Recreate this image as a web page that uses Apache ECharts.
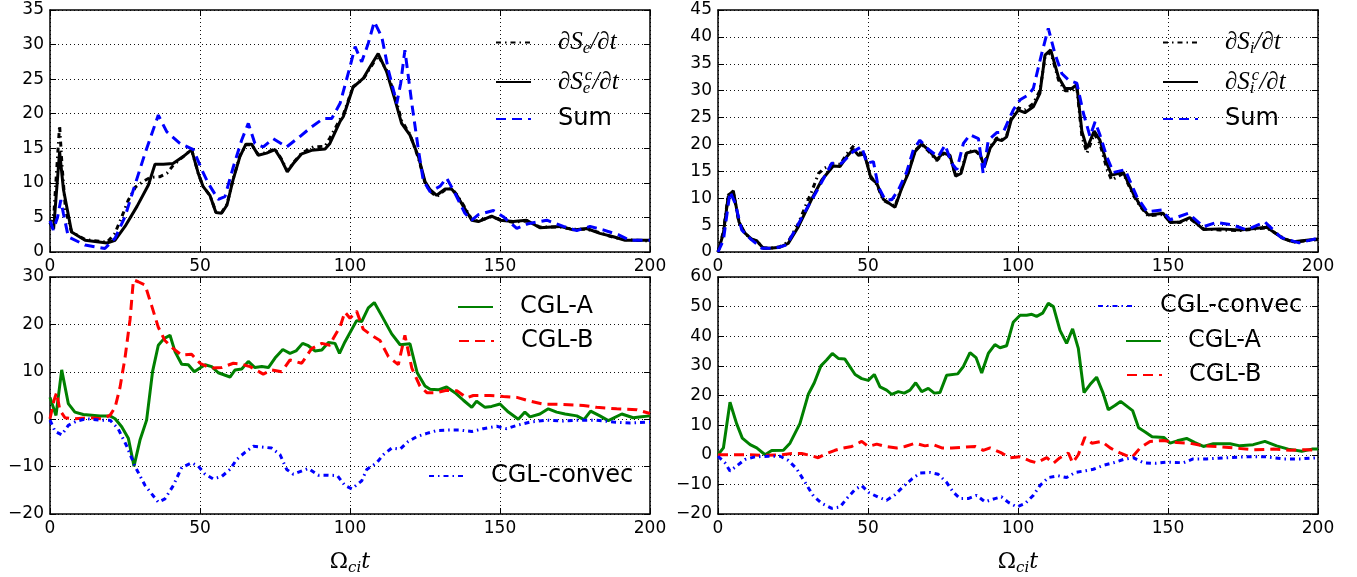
<!DOCTYPE html>
<html>
<head>
<meta charset="utf-8">
<script src="https://cdn.jsdelivr.net/npm/echarts@6.0.0/dist/echarts.min.js"></script>
<style>
html, body { margin: 0; padding: 0; background: #fff; }
#main { width: 1357px; height: 577px; }
</style>
</head>
<body>
<div id="main"></div>
<script>
// x range shared by all panels
var xMin = 0, xMax = 200, xStep = 50;

// y ranges per panel: [min, max, step]
var yTopE = [0, 35, 5];
var yTopI = [0, 45, 5];
var yBotE = [-20, 30, 10];
var yBotI = [-20, 60, 10];

// top left: electron entropy rate
var eDsDt = [[0,4.0],[1.3,5.5],[2.4,13],[3.2,18.3],[4.0,12.5],[5.2,6],[7.2,2.9],[11.7,1.8],[19,1.4],[21.5,2.6],[23.5,4.6],[26,7.4],[28.5,9.4],[31,10.2],[33.5,10.8],[36.7,10.9],[39,11.4],[41,12.5],[44.4,13.8],[47.2,14.8],[49.4,11.4],[51,9.5],[53.3,8.2],[55.3,5.8],[57.2,5.7],[59,6.9],[61,10.5],[63.3,13.9],[65.3,15.5],[67.2,15.5],[69.4,14.1],[72.2,14.4],[75,14.9],[77.2,13.4],[79.1,11.7],[81.1,12.9],[83.9,14.3],[87.8,15.2],[91.7,15.3],[93.3,16.5],[96.7,19.2],[97.8,19.9],[101,23.9],[104.4,25.0],[106.7,26.6],[109.4,28.4],[112.2,26.3],[115,22.5],[117.2,19.0],[120,17.0],[122.8,13.6],[125,10.0],[126.7,8.8],[128.9,8.0],[131.7,9.0],[133.9,9.2],[135.6,8.3],[137.8,6.8],[140.6,4.7],[142.8,4.5],[147.2,5.1],[150,4.7],[154.4,4.3],[158.9,4.5],[163.3,3.6],[170,3.6],[174.4,3.3],[178.9,3.3],[183.3,2.8],[187.8,2.1],[191.7,1.8],[200,1.6]];
var eDscDt = [[0,4.2],[1.2,3.3],[3.2,14.5],[4.5,9],[7.2,2.9],[11.7,1.7],[19,1.3],[21.7,1.7],[25,3.7],[29,6.6],[32.8,9.7],[35,12.7],[37.8,12.7],[41,12.8],[44.4,13.8],[47.2,14.8],[49.4,11.4],[51,9.5],[53.3,8.2],[55.3,5.7],[57.2,5.6],[59,6.8],[61,10.4],[63.3,13.8],[65.3,15.6],[67.2,15.6],[69.4,14.0],[72.2,14.3],[75,14.8],[77.2,13.3],[79.1,11.6],[81.1,12.8],[83.9,14.2],[87.2,14.7],[91.7,14.9],[93.3,15.7],[96.7,18.9],[97.8,19.6],[101,23.8],[104.4,25.1],[106.7,26.8],[109.4,28.7],[112.2,26.1],[115,22.0],[117.2,18.6],[120,16.9],[122.8,13.8],[125,10.2],[126.7,9.0],[128.9,8.2],[131.7,9.1],[133.9,9.1],[135.6,8.2],[137.8,6.6],[140.6,4.6],[142.8,4.4],[147.2,5.2],[150,4.6],[154.4,4.4],[158.9,4.6],[163.3,3.5],[170,3.7],[174.4,3.2],[178.9,3.4],[183.3,2.7],[187.8,2.2],[191.7,1.7],[200,1.7]];
var eSum = [[0,4.5],[1.1,3.2],[2.5,5],[3.6,7.5],[4.5,5.5],[6.1,2.2],[11.7,1.0],[18.3,0.5],[21.7,2.0],[25,5.1],[27.8,9.0],[31.7,14.3],[36.1,19.8],[38.9,17.4],[43.3,15.7],[47.8,14.8],[50.6,11.9],[52.8,9.9],[56.1,7.6],[58.3,8.0],[61.1,12.3],[63.9,16.2],[66.1,18.6],[68.3,15.7],[71.1,15.2],[74.4,16.4],[78.9,15.2],[83.3,16.7],[87.2,18.1],[91.1,19.3],[93.9,19.3],[96.7,21.5],[100,26.8],[101.7,29.7],[103.9,27.5],[106.1,30.2],[108.1,33.3],[110.6,31.1],[112.8,26.3],[115.6,21.5],[116.9,24.4],[118.3,29.2],[120.6,21.5],[122.8,14.8],[124.4,10.4],[126.7,8.7],[130,9.5],[132.2,10.7],[135,8.5],[138.3,5.6],[140.6,4.6],[142.8,5.4],[147.8,6.0],[151.1,5.1],[155.6,3.4],[159.4,4.1],[165.6,4.6],[171.1,3.7],[175.6,3.1],[180,3.7],[184.4,3.2],[189.4,2.5],[193.3,1.7],[200,1.7]];

// top right: ion entropy rate
var iDsDt = [[0,0],[1.8,3.8],[3.4,10.6],[5.1,11.2],[7,5.4],[9,3.4],[11.2,2.4],[12.9,2.0],[15.1,0.8],[17.3,0.7],[20.7,1.0],[23.4,1.9],[26.8,5.3],[29.2,8.6],[31.2,11.2],[33.5,14.6],[35.5,15.6],[38.4,16.4],[40.7,16.3],[42.9,18.2],[45.3,19.8],[46.8,18.4],[48.8,18.4],[51,14.0],[52.9,12.6],[55.1,9.6],[59,8.5],[61.2,12.0],[63.4,14.8],[65.7,18.9],[67.9,20.0],[70.1,18.8],[72.9,17.0],[75.1,18.2],[77.3,17.8],[79.2,14.3],[81,14.9],[82.9,18.6],[85.7,18.9],[87.3,18.0],[88.8,16.2],[90.7,19.5],[92.9,21.2],[94.6,20.9],[96.2,21.6],[97.7,24.8],[100.1,26.8],[102.3,26.4],[105.1,27.6],[107.3,30.0],[109,36.2],[110.9,37.2],[113.5,32.0],[115.7,30.0],[117.9,30.0],[119.6,30.6],[121.3,21.5],[123,18.4],[125.4,22.0],[127.3,20.2],[129.6,15.5],[131.2,13.4],[135.1,14.6],[138.4,10.6],[140.7,8.5],[143.4,6.7],[148.4,7.0],[150.7,5.6],[154,5.5],[157.3,6.2],[161.8,4.3],[167.3,4.1],[174,4.0],[182.9,4.5],[188.4,2.6],[191.8,1.8],[196.2,2.1],[200,2.3]];
var iDscDt = [[0,0],[1.8,3.5],[3.4,10.3],[5.1,11.4],[7,5.6],[9,3.5],[11.2,2.4],[12.9,2.1],[15.1,0.7],[17.3,0.7],[20.7,0.9],[23.4,1.6],[26.8,4.7],[31.2,9.8],[34.6,13.4],[38.4,16.0],[40.7,15.9],[42.9,17.7],[45.1,19.1],[46.8,18.0],[48.8,18.2],[51,13.7],[52.9,12.8],[55.1,9.8],[59,8.3],[61.2,11.8],[63.4,14.6],[65.7,18.7],[67.9,20.1],[70.1,19.0],[72.9,17.2],[75.1,18.4],[77.3,18.0],[79.2,14.1],[81,14.6],[82.9,18.4],[85.7,18.8],[87.3,18.2],[88.8,15.9],[90.7,19.3],[92.9,21.0],[94.6,20.7],[96.2,21.4],[97.7,24.5],[100.1,26.4],[102.3,25.9],[105.1,27.0],[107.3,29.5],[109,36.6],[110.9,37.6],[113.5,32.5],[115.7,30.4],[117.9,30.4],[119.6,31.1],[121.3,22.4],[123,19.3],[125.4,22.5],[127.3,20.8],[129.6,16.5],[131.2,14.3],[135.1,14.8],[138.4,10.9],[140.7,8.7],[143.4,6.9],[148.4,7.2],[150.7,5.5],[154,5.6],[157.3,6.4],[161.8,4.2],[167.3,4.3],[174,4.1],[182.9,4.6],[188.4,2.5],[191.8,1.9],[196.2,2.2],[200,2.4]];
var iSum = [[0,0],[1.8,2.2],[4,11.2],[5.7,9.1],[7.9,4.1],[10.7,2.5],[14.6,0.7],[19,0.7],[22.9,1.3],[25.7,4.1],[29.6,8.1],[33.4,11.8],[37.9,16.5],[41.2,16.5],[45.1,18.7],[47.9,19.6],[49.6,16.5],[51.8,16.8],[53.4,12.2],[55.7,9.7],[57.9,9.7],[60.1,11.5],[62.9,14.9],[65.1,19.0],[67.3,20.8],[70.1,19.1],[73.4,17.7],[75.7,19.9],[77.9,16.5],[79.6,15.3],[81.8,20.2],[84,21.8],[86.8,21.1],[88.4,14.6],[90.1,20.8],[92.9,22.2],[95.1,22.3],[98.4,26.4],[100.7,28.3],[103.4,29.2],[105.1,30.4],[107.9,36.9],[110.1,41.6],[112.3,36.9],[114.6,33.2],[116.8,32.0],[119.6,31.4],[121.8,25.8],[124,21.5],[125.7,24.2],[127.3,21.8],[129.6,17.7],[131.8,14.8],[135.7,15.3],[139.6,10.3],[143,7.5],[148,7.8],[150.7,6.0],[156.8,7.2],[161.8,4.7],[166.2,5.5],[171.8,5.0],[176.2,4.1],[182.3,5.6],[187.7,2.7],[193.7,1.7],[199.6,2.5]];

// bottom left: electron CGL terms
var eCglA = [[0,4.6],[2,0.8],[3.9,10.4],[6.1,3.3],[8.3,1.5],[11.1,1.0],[16.7,0.7],[20,0.7],[21.7,0.1],[23.9,-1.6],[26.1,-4.0],[28,-9.9],[30,-4.4],[32.2,-0.2],[34.2,10.1],[36.1,15.6],[38,17.0],[40,17.7],[41.7,14.2],[43.9,11.6],[46.1,11.5],[48.1,10.0],[50,10.8],[51.7,11.5],[53.9,11.1],[56.1,9.8],[60,8.9],[61.7,10.4],[63.9,10.6],[66.1,12.2],[68.3,10.9],[70.6,11.1],[72.8,10.9],[75,12.9],[77.6,14.7],[80,13.9],[82,14.4],[84.2,16.0],[86.1,15.5],[88.3,14.4],[90.6,14.6],[92.8,16.2],[95,16.0],[96.5,13.9],[98.3,16.3],[102.2,20.8],[103.9,20.6],[106.1,23.5],[108.1,24.6],[110.6,21.8],[113.9,18.0],[116.7,15.7],[120,15.9],[122.4,9.8],[125,7.0],[126.7,6.3],[129.4,6.2],[132.2,6.8],[135,5.6],[137.8,4.0],[140.6,2.5],[142.2,3.8],[145,2.5],[147.2,2.7],[150,3.2],[152.8,1.5],[156.1,0],[158.3,1.5],[160,0.5],[163.3,1.1],[166.1,2.2],[168.9,1.5],[171.7,1.1],[175.6,0.7],[178,-0.1],[180.2,1.7],[183.3,0.7],[186.1,-0.3],[190.6,1.1],[194.4,0.3],[197.2,0.5],[200,0.7]];
var eCglB = [[0,0.1],[1.3,3.9],[2.2,5.6],[3.3,1.9],[5,0.3],[7.8,0.1],[13.3,0.3],[17.2,0.1],[20,0.8],[21.7,2.5],[23.3,6.6],[25,12.9],[26.7,21.1],[27.8,29.4],[29.4,29.0],[31.7,28.3],[33.9,23.9],[36.1,19.4],[38.3,16.6],[41.1,14.9],[43.9,13.5],[47.2,13.7],[50,11.8],[53.3,10.8],[57.2,10.9],[61.1,11.8],[63.9,11.6],[66.7,11.1],[71.1,9.5],[73.9,10.4],[77.2,10.0],[80,12.5],[83.9,11.8],[87.2,14.9],[90.6,16.0],[93.3,15.6],[94.4,17.0],[96.7,19.5],[98.3,22.6],[100,21.3],[102.2,22.8],[104.4,19.0],[107.2,17.7],[110,16.6],[112.8,13.2],[116.1,11.5],[118.3,17.7],[120.6,10.8],[123.3,7.0],[125.6,5.6],[128.9,5.6],[132.2,6.1],[135.6,6.0],[138.9,4.5],[141.1,5.0],[146.7,5.0],[151.1,4.8],[155.6,4.6],[160,3.8],[164.4,3.2],[171.1,3.1],[177.8,2.9],[182.2,2.5],[188.9,2.2],[195.6,2.0],[200,1.2]];
var eConvec = [[0,-0.2],[1.7,-2.6],[3.9,-3.3],[6.1,-1.3],[8.9,-0.4],[12.2,0.1],[16.7,-0.2],[20,-0.2],[22.7,-2.0],[25.6,-5.7],[28.3,-9.9],[31.7,-14.0],[36.1,-17.5],[38.3,-16.8],[41.1,-14.0],[43.9,-10.2],[47.2,-9.2],[49.4,-9.9],[51.7,-11.6],[54.4,-12.6],[57.2,-12.1],[60,-10.6],[62.2,-8.5],[65,-7.0],[67.8,-5.7],[71.1,-5.9],[73.9,-6.1],[76.7,-7.5],[78.9,-10.6],[81.1,-11.6],[86.1,-10.4],[89.4,-11.8],[92.8,-11.8],[95.8,-11.9],[98.3,-14.0],[100.6,-14.7],[103.9,-13.0],[105.6,-10.6],[108.9,-9.2],[111.1,-7.5],[113.9,-6.1],[116.7,-6.3],[119.4,-4.7],[122.2,-3.7],[125.6,-3.0],[128.9,-2.4],[132.8,-2.3],[136.7,-2.3],[140.6,-2.6],[144.4,-2.0],[148.9,-1.5],[152.2,-2.0],[155.6,-1.3],[160,-0.6],[165.6,-0.2],[171.1,-0.4],[176.7,-0.2],[182.2,-0.2],[187.8,-0.6],[193.3,-0.8],[200,-0.6]];

// bottom right: ion CGL terms
var iCglA = [[0,0],[1.8,2.3],[4,17.7],[6.2,10.5],[8.1,5.6],[10.7,3.4],[12.9,2.3],[15.7,0],[17.9,1.4],[21.8,1.5],[24,3.9],[27.3,10.5],[30.1,20.4],[32.1,24.3],[34.3,30.0],[36.2,32.0],[38.1,34.2],[40.1,32.5],[42.3,32.3],[45.7,27.1],[47.9,25.7],[50.1,25.1],[52.1,27.1],[54,22.9],[56.2,21.8],[57.9,20.4],[60.1,21.3],[62.1,20.8],[64,21.8],[65.9,24.3],[67.9,21.3],[70.1,22.4],[72.1,20.8],[74,21.0],[76.2,26.8],[79.9,27.3],[81.8,29.8],[84,34.5],[86,32.8],[87.9,27.6],[90.1,34.2],[92.3,37.2],[94,36.1],[96.2,36.8],[98.4,44.7],[100.7,47.1],[102.9,47.1],[104.6,47.4],[106.2,46.7],[108.2,47.8],[110.1,51.1],[111.8,50.0],[114,42.0],[116.2,37.6],[118.2,42.5],[120.1,35.9],[122,21.0],[124,23.7],[126.2,26.2],[128.4,20.7],[130.1,15.2],[132.3,16.6],[134.2,18.0],[138.2,14.9],[140.2,9.1],[142.4,7.7],[144.7,6.1],[148.7,5.8],[150.7,3.9],[153.1,4.7],[156.2,5.5],[159,4.1],[161.8,2.8],[165.1,3.7],[170.7,3.7],[174,3.0],[178.4,3.4],[182.3,4.5],[186.2,3.0],[190.1,1.9],[194.6,1.2],[198,1.9],[200,1.9]];
var iCglB = [[0,0],[4.6,0],[10.1,0],[15.7,-0.2],[21.2,0],[24.6,0.4],[27.9,0.4],[30.7,-0.2],[33.4,-1.0],[36.2,0.4],[39,1.5],[41.8,2.3],[44.6,2.8],[47.9,4.5],[50.1,2.8],[52.9,3.6],[55.7,2.8],[59.6,2.3],[62.3,2.8],[65.7,3.9],[69,3.0],[71.8,3.4],[74.6,2.3],[77.9,2.3],[82.3,2.6],[85.7,2.8],[88.4,1.5],[90.7,2.3],[94.3,0.7],[97.3,-1.0],[100.7,-0.7],[104,-2.1],[106.2,-2.7],[109.6,-1.0],[111.8,-2.9],[114,-1.0],[116.8,0.6],[118.2,-2.7],[120.1,0],[122.3,5.9],[124.6,3.9],[127.9,4.5],[130.7,2.3],[134,0.6],[137.9,-1.0],[140.7,2.3],[144,4.5],[148.4,4.8],[152.9,4.1],[157.3,3.9],[161.8,3.0],[166.2,2.8],[171.8,2.3],[178.4,1.7],[185.1,1.9],[190.7,1.5],[196.2,1.7],[200,1.5]];
var iConvec = [[0,-0.5],[2.3,-2.7],[4,-5.5],[6.2,-3.8],[9,-1.6],[12.3,-0.7],[16.8,-0.5],[20.7,-0.5],[23.4,-1.9],[26.2,-4.7],[29,-9.3],[31.8,-13.9],[34.6,-16.4],[37.9,-18.1],[40.7,-17.6],[42.9,-14.8],[45.7,-11.7],[47.9,-10.4],[50.3,-12.8],[53.4,-14.3],[56.2,-15.4],[59,-13.5],[61.8,-10.7],[64.6,-8.2],[67.3,-6.2],[70.7,-6.0],[73.4,-6.6],[76.2,-9.3],[78.4,-12.6],[80.7,-14.8],[83.4,-14.8],[86.2,-13.7],[89,-15.9],[92.3,-14.8],[94.5,-14.2],[96.8,-16.1],[99.6,-17.6],[102.3,-16.5],[105.1,-13.7],[107.3,-10.4],[110.1,-7.7],[113.4,-7.1],[116.2,-7.7],[119,-6.0],[121.8,-5.5],[125.1,-4.9],[128.4,-3.6],[131.8,-2.7],[135.1,-1.6],[138.4,-1.0],[141.8,-2.7],[145.7,-2.9],[149.6,-2.5],[155.1,-2.7],[158.4,-1.4],[162.9,-1.4],[169.6,-1.0],[176.2,-0.7],[182.9,-0.7],[188.4,-1.4],[194,-1.4],[200,-1.0]];

var chart = echarts.init(document.getElementById('main'));

var grids = [
    { left: 50, top: 10, width: 600, height: 242 },
    { left: 718, top: 10, width: 600, height: 242 },
    { left: 50, top: 277, width: 600, height: 242 },
    { left: 718, top: 277, width: 600, height: 242 }
];
var yRanges = [yTopE, yTopI, yBotE, yBotI];

var black = '#000';
var tickFont = { color: black, fontSize: 17, fontFamily: 'DejaVu Sans' };
var minusFmt = function (v) { return String(v).replace('-', '\u2212'); };
var gridDots = { color: '#111', type: [1, 3], width: 1 };

var xAxes = [];
var yAxes = [];
grids.forEach(function (g, i) {
    var bottomRow = i >= 2;
    xAxes.push({
        gridIndex: i, type: 'value', min: xMin, max: xMax, interval: xStep, position: 'bottom',
        axisLine: { show: true, onZero: false, lineStyle: { color: black, width: 1.5 } },
        axisTick: { show: true, inside: true, length: 6, lineStyle: { color: black } },
        axisLabel: Object.assign({ margin: 6, formatter: minusFmt }, tickFont),
        splitLine: { show: true, lineStyle: gridDots },
        name: bottomRow ? '{o|\u03A9}{s|ci}{t|t}' : '',
        nameLocation: 'middle', nameGap: 34,
        nameTextStyle: {
            rich: {
                o: { fontFamily: 'DejaVu Serif', fontSize: 22, color: black, lineHeight: 28 },
                s: { fontFamily: 'DejaVu Serif', fontStyle: 'italic', fontSize: 15, color: black, lineHeight: 12, verticalAlign: 'bottom' },
                t: { fontFamily: 'DejaVu Serif', fontStyle: 'italic', fontSize: 22, color: black, lineHeight: 28 }
            }
        }
    });
    xAxes.push({
        gridIndex: i, type: 'value', min: xMin, max: xMax, interval: xStep, position: 'top',
        axisLine: { show: true, onZero: false, lineStyle: { color: black, width: 1.5 } },
        axisTick: { show: true, inside: true, length: 6, lineStyle: { color: black } },
        axisLabel: { show: false }, splitLine: { show: false }
    });
    var yr = yRanges[i];
    yAxes.push({
        gridIndex: i, type: 'value', min: yr[0], max: yr[1], interval: yr[2], position: 'left',
        axisLine: { show: true, onZero: false, lineStyle: { color: black, width: 1.5 } },
        axisTick: { show: true, inside: true, length: 6, lineStyle: { color: black } },
        axisLabel: Object.assign({ margin: 6, formatter: minusFmt }, tickFont),
        splitLine: { show: true, lineStyle: gridDots }
    });
    yAxes.push({
        gridIndex: i, type: 'value', min: yr[0], max: yr[1], interval: yr[2], position: 'right',
        axisLine: { show: true, onZero: false, lineStyle: { color: black, width: 1.5 } },
        axisTick: { show: true, inside: true, length: 6, lineStyle: { color: black } },
        axisLabel: { show: false }, splitLine: { show: false }
    });
});

var dashDot = [5, 4, 1.5, 4];
var dashed = [10, 6];

function line(name, panel, data, color, type) {
    return {
        name: name, type: 'line', xAxisIndex: panel * 2, yAxisIndex: panel * 2,
        data: data, symbol: 'none', animation: false,
        lineStyle: { color: color, width: 3, type: type },
        itemStyle: { color: color }
    };
}

var series = [
    line('dSe', 0, eDsDt, black, dashDot),
    line('dSec', 0, eDscDt, black, 'solid'),
    line('sumE', 0, eSum, '#0000ff', dashed),
    line('dSi', 1, iDsDt, black, dashDot),
    line('dSic', 1, iDscDt, black, 'solid'),
    line('sumI', 1, iSum, '#0000ff', dashed),
    line('CGL-A', 2, eCglA, '#008000', 'solid'),
    line('CGL-B', 2, eCglB, '#ff0000', dashed),
    line('CGL-convec', 2, eConvec, '#0000ff', dashDot),
    line('CGL-A', 3, iCglA, '#008000', 'solid'),
    line('CGL-B', 3, iCglB, '#ff0000', dashed),
    line('CGL-convec', 3, iConvec, '#0000ff', dashDot)
];

var mathRich = {
    m: { fontFamily: 'Liberation Serif', fontStyle: 'italic', fontSize: 25, lineHeight: 30, color: black },
    b: { fontFamily: 'Liberation Serif', fontStyle: 'italic', fontSize: 17, lineHeight: 12, verticalAlign: 'bottom', color: black },
    bb: { fontFamily: 'Liberation Serif', fontStyle: 'italic', fontSize: 17, lineHeight: 12, verticalAlign: 'bottom', color: black, width: 1 },
    p: { fontFamily: 'Liberation Serif', fontStyle: 'italic', fontSize: 17, lineHeight: 18, verticalAlign: 'top', color: black, padding: [0, 0, 0, 1] }
};
var labels = {
    'dSe': '{m|\u2202S}{b|e}{m|/\u2202t}',
    'dSec': '{m|\u2202S}{bb|e}{p|c}{m|/\u2202t}',
    'dSi': '{m|\u2202S}{b|i}{m|/\u2202t}',
    'dSic': '{m|\u2202S}{bb|i}{p|c}{m|/\u2202t}',
    'sumE': 'Sum',
    'sumI': 'Sum'
};

function legendItem(name, left, cy) {
    var isMath = /^dS/.test(name);
    var h = isMath ? 30 : 28;
    return {
        data: [name], left: left, top: cy - h / 2, padding: 0,
        itemWidth: 35, itemHeight: 14, selectedMode: false,
        itemStyle: { opacity: 0 },
        formatter: function (n) { return labels[n] || n; },
        textStyle: isMath
            ? { padding: [0, 0, 0, 22], rich: mathRich }
            : { padding: [0, 0, 0, 22], fontFamily: 'DejaVu Sans', fontSize: 24, lineHeight: 28, color: black }
    };
}

var legends = [
    legendItem('dSe', 495, 45),
    legendItem('dSec', 495, 82),
    legendItem('sumE', 495, 119),
    legendItem('dSi', 1162, 45),
    legendItem('dSic', 1162, 82),
    legendItem('sumI', 1162, 119),
    legendItem('CGL-A', 457, 307),
    legendItem('CGL-B', 458, 341),
    legendItem('CGL-convec', 428, 476),
    legendItem('CGL-convec', 1097, 306),
    legendItem('CGL-A', 1125, 341),
    legendItem('CGL-B', 1126, 375)
];

chart.setOption({
    animation: false,
    backgroundColor: '#fff',
    grid: grids,
    xAxis: xAxes,
    yAxis: yAxes,
    legend: legends,
    series: series
});
</script>
</body>
</html>
